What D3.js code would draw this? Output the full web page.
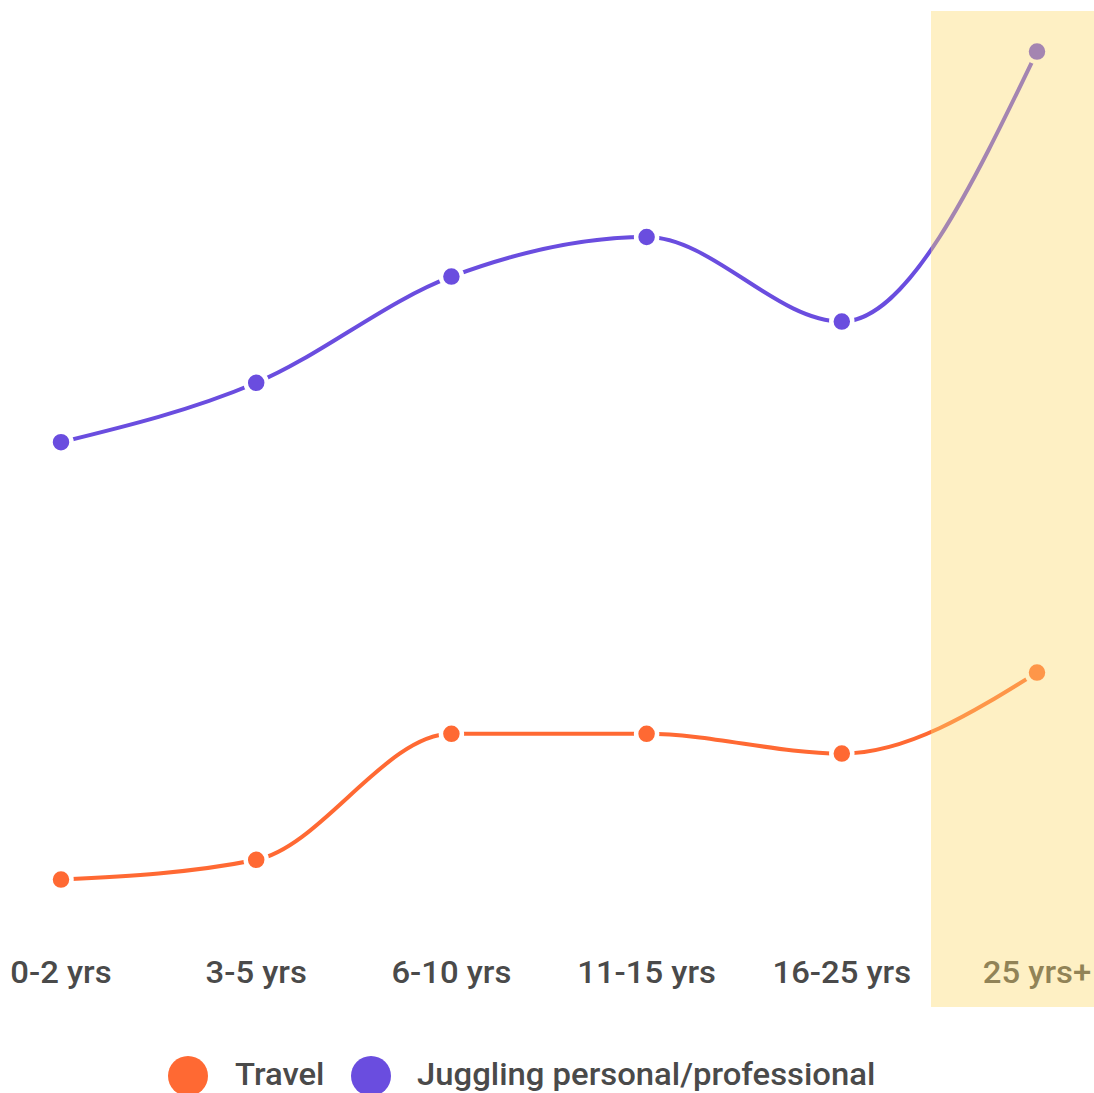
<!DOCTYPE html>
<html>
<head>
<meta charset="utf-8">
<script src="https://cdn.jsdelivr.net/npm/d3@7"></script>
<style>
  html, body { margin: 0; padding: 0; background: #fff; }
  svg { display: block; font-family: Roboto, "Noto Sans", sans-serif; }
</style>
</head>
<body>
<svg id="chart" width="1094" height="1093"></svg>
<script>
// Experience brackets along the x axis
const categories = ["0-2 yrs", "3-5 yrs", "6-10 yrs", "11-15 yrs", "16-25 yrs", "25 yrs+"];
// Share of respondents (%) citing each challenge
const travel = [2.8, 3.9, 10.9, 10.9, 9.8, 14.3];
const juggling = [27.1, 30.4, 36.3, 38.5, 33.8, 48.8];
const seriesNames = ["Travel", "Juggling personal/professional"];
const seriesColors = ["#ff6933", "#6a4ddf"];
const highlighted = "25 yrs+";

const svg = d3.select("#chart");
const W = 1094, H = 1093;
const textStretch = 1.06;

const x = d3.scalePoint().domain(categories).range([61, 1037]);
const y = d3.scaleLinear().domain([0, 50]).range([930, 30]);

const series = [
  { name: seriesNames[0], color: seriesColors[0], values: travel },
  { name: seriesNames[1], color: seriesColors[1], values: juggling }
];

const line = d3.line()
  .x((d, i) => x(categories[i]))
  .y(d => y(d))
  .curve(d3.curveMonotoneX);

// Lines
const g = svg.append("g");
series.forEach(s => {
  g.append("path")
    .datum(s.values)
    .attr("d", line)
    .attr("fill", "none")
    .attr("stroke", s.color)
    .attr("stroke-width", 4);
});

// Points
series.forEach(s => {
  g.selectAll(null)
    .data(s.values)
    .join("circle")
    .attr("cx", (d, i) => x(categories[i]))
    .attr("cy", d => y(d))
    .attr("r", 10.5)
    .attr("fill", s.color)
    .attr("stroke", "#fff")
    .attr("stroke-width", 4.5);
});

// Category labels
svg.append("g")
  .selectAll("text")
  .data(categories)
  .join("text")
  .attr("transform", d => `translate(${x(d)},983) scale(${textStretch},1)`)
  .attr("text-anchor", "middle")
  .attr("font-size", 31)
  .attr("font-weight", 500)
  .attr("fill", "#4a4a4a")
  .text(d => d);

// Translucent highlight over the latest bracket
const step = x.step();
const hx = x(highlighted) - step * 0.543;
svg.append("rect")
  .attr("x", hx)
  .attr("y", 11)
  .attr("width", W - hx)
  .attr("height", 996)
  .attr("fill", "rgb(252,217,108)")
  .attr("fill-opacity", 0.4);

// Legend
const legend = svg.append("g");
const legendItems = [
  { cx: 188, tx: 235 },
  { cx: 371, tx: 417 }
];
series.forEach((s, i) => {
  legend.append("circle")
    .attr("cx", legendItems[i].cx)
    .attr("cy", 1076)
    .attr("r", 20)
    .attr("fill", s.color);
  legend.append("text")
    .attr("transform", `translate(${legendItems[i].tx},1085) scale(${textStretch},1)`)
    .attr("font-size", 31)
    .attr("font-weight", 500)
    .attr("fill", "#4a4a4a")
    .text(s.name);
});
</script>
</body>
</html>
